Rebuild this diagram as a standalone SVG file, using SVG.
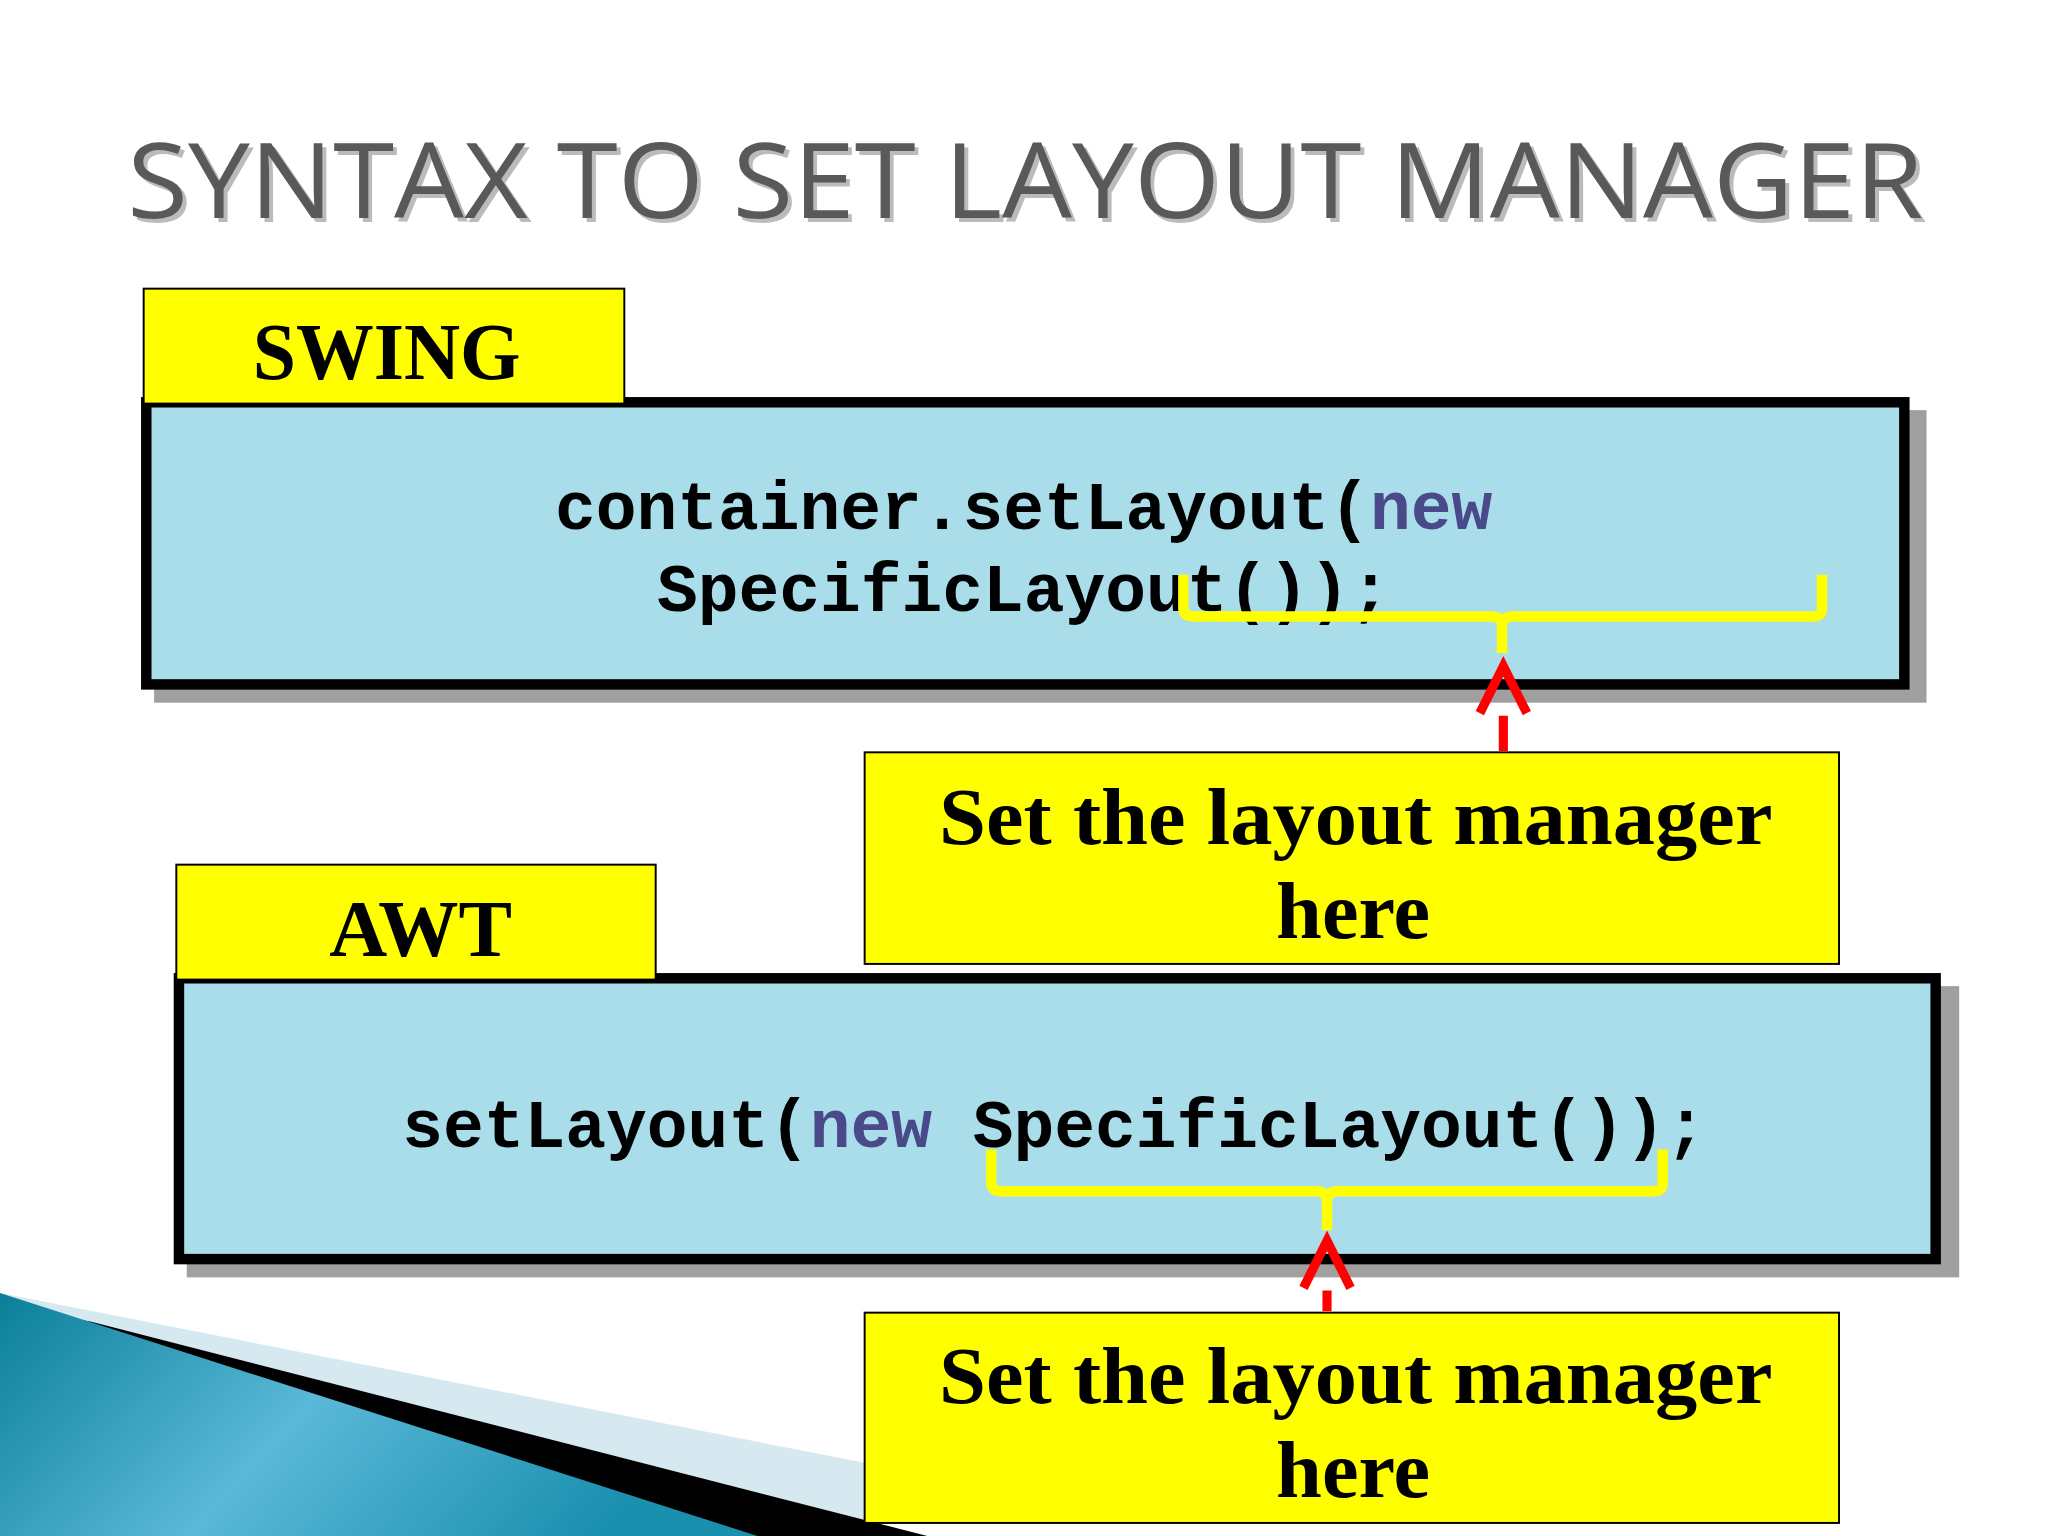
<svg xmlns="http://www.w3.org/2000/svg" width="2048" height="1536" viewBox="0 0 2048 1536">
<style>
.tab{fill:#ffff00;stroke:#000;stroke-width:1.5}
.lbl{font-family:"Liberation Serif",serif;font-weight:bold;fill:#000}
.code{font-family:"Liberation Mono",monospace;font-weight:bold;font-size:52px;fill:#000}
.kw{fill:#4a4a8a}
.box{fill:#a8dde9;stroke:#000;stroke-width:8}
.shadow{fill:#a0a0a0}
.brace{fill:none;stroke:#ffff00;stroke-width:8;stroke-linejoin:round}
.arr{fill:none;stroke:#ff0000;stroke-width:7}
</style>
<defs>
<linearGradient id="tg" x1="0" y1="0" x2="1" y2="0.3">
<stop offset="0" stop-color="#0a7f99"/><stop offset="0.5" stop-color="#5ab8d8"/><stop offset="1" stop-color="#1a8fae"/>
</linearGradient>
</defs>
<rect width="2048" height="1536" fill="#fff"/>
<g transform="scale(1.30612)">
<g id="decor">
<polygon points="0,990 662,1120 662,1176 0,1176" fill="#d6e8f0"/>
<polygon points="70,1012 710,1176 0,1176 0,1000" fill="#000"/>
<polygon points="0,990 580,1176 0,1176" fill="url(#tg)"/>
</g>
<g id="title">
<text x="785" y="167" text-anchor="middle" font-family="Open Sans,sans-serif" font-size="80" fill="#bbb" textLength="1375" lengthAdjust="spacingAndGlyphs" transform="translate(3,3)">SYNTAX TO SET LAYOUT MANAGER</text>
<text x="785" y="167" text-anchor="middle" font-family="Open Sans,sans-serif" font-size="80" fill="#595959" textLength="1375" lengthAdjust="spacingAndGlyphs">SYNTAX TO SET LAYOUT MANAGER</text>
</g>
<g id="swing-box">
<rect class="shadow" x="118" y="314" width="1357" height="224"/>
<rect class="box" x="112" y="308" width="1346" height="216"/>
<text class="code" x="425" y="405">container.setLayout(<tspan class="kw">new</tspan></text>
<text class="code" x="503" y="468">SpecificLayout());</text>
</g>
<g id="swing-tab">
<rect class="tab" x="110" y="221" width="368" height="88"/>
<text class="lbl" x="296" y="290" text-anchor="middle" font-size="62" textLength="205" lengthAdjust="spacingAndGlyphs">SWING</text>
</g>
<g id="awt-box">
<rect class="shadow" x="143" y="755" width="1357" height="223"/>
<rect class="box" x="137" y="749" width="1345" height="215"/>
<text class="code" x="308" y="878">setLayout(<tspan class="kw">new</tspan> SpecificLayout());</text>
</g>
<g id="awt-tab">
<rect class="tab" x="135" y="662" width="367" height="88"/>
<text class="lbl" x="322" y="732" text-anchor="middle" font-size="62" textLength="140" lengthAdjust="spacingAndGlyphs">AWT</text>
</g>
<g id="callout1">
<rect class="tab" x="662" y="576" width="746" height="162"/>
<text class="lbl" x="1038" y="646" text-anchor="middle" font-size="62" textLength="638" lengthAdjust="spacingAndGlyphs">Set the layout manager</text>
<text class="lbl" x="1036" y="718" text-anchor="middle" font-size="62" textLength="118" lengthAdjust="spacingAndGlyphs">here</text>
</g>
<g id="callout2">
<rect class="tab" x="662" y="1005" width="746" height="161"/>
<text class="lbl" x="1038" y="1074" text-anchor="middle" font-size="62" textLength="638" lengthAdjust="spacingAndGlyphs">Set the layout manager</text>
<text class="lbl" x="1036" y="1146" text-anchor="middle" font-size="62" textLength="118" lengthAdjust="spacingAndGlyphs">here</text>
</g>
<g id="connectors">
<path class="brace" d="M906,440 V466 Q906,472 914,472 H1142 Q1150,472 1150,480 V500 M1150,480 Q1150,472 1158,472 H1388 Q1395,472 1395,466 V440"/>
<path class="arr" d="M1133,546 L1151,510 L1169,546 M1151,548 V575"/>
<path class="brace" d="M759,880 V906 Q759,912 767,912 H1008 Q1016,912 1016,920 V942 M1016,920 Q1016,912 1024,912 H1266 Q1273,912 1273,906 V880"/>
<path class="arr" d="M998,986 L1016,950 L1034,986 M1016,988 V1004"/>
</g>
</g>
</svg>
